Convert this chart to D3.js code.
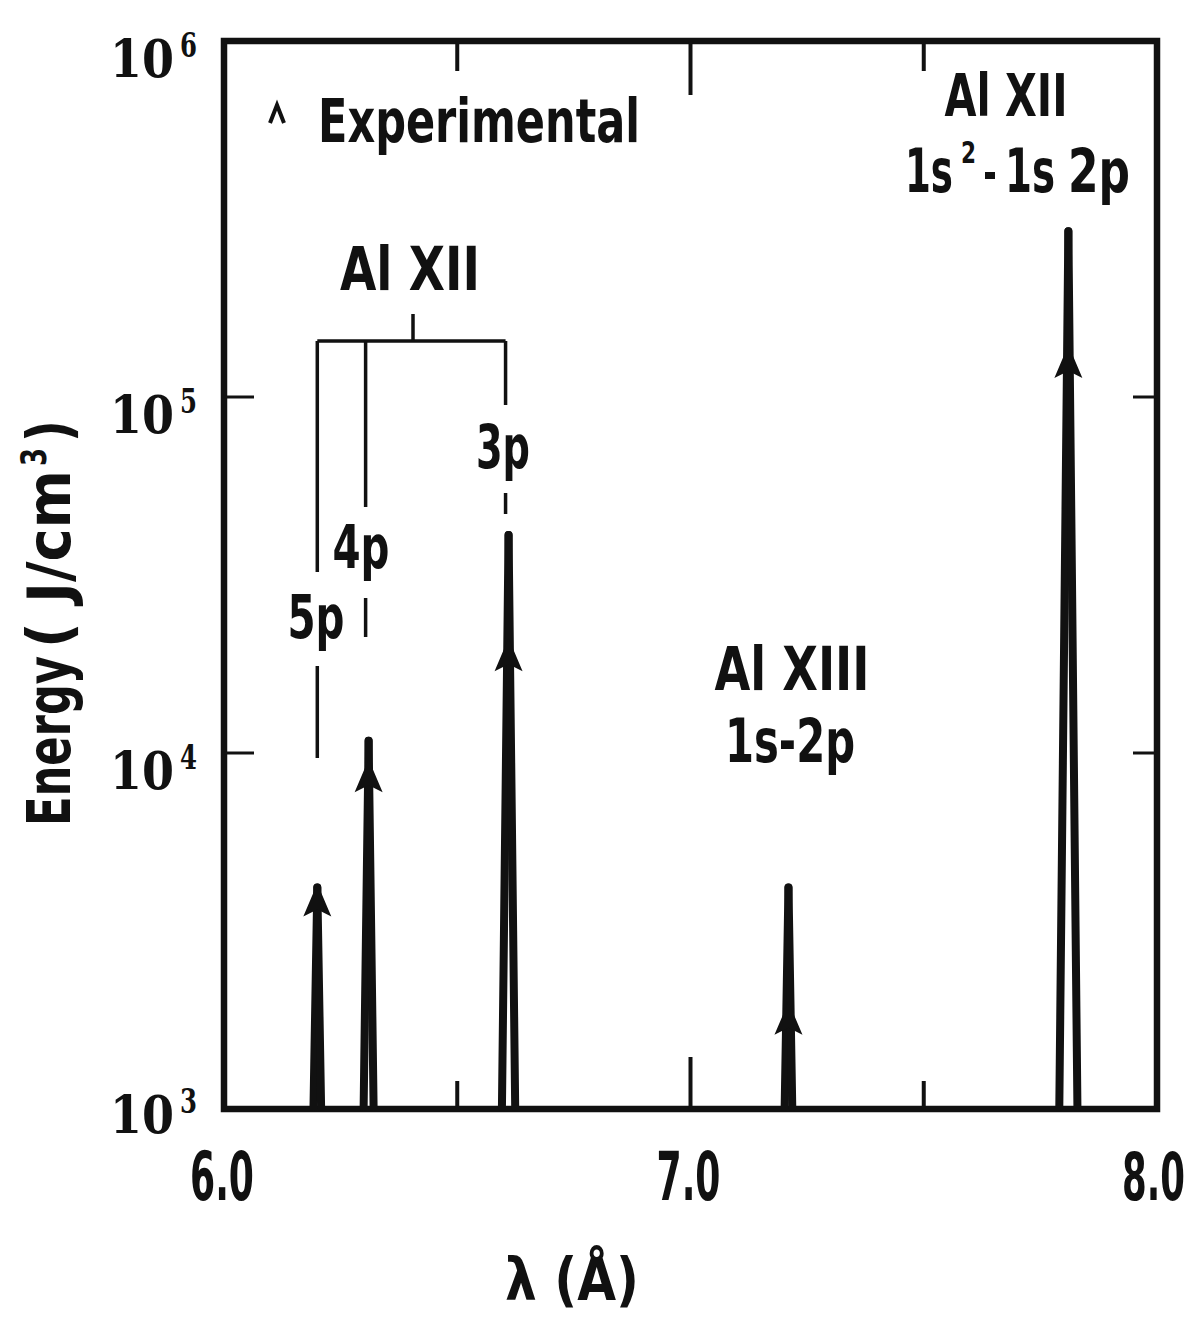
<!DOCTYPE html>
<html><head><meta charset="utf-8">
<script src="https://cdn.jsdelivr.net/npm/d3@7"></script>
<style>html,body{margin:0;padding:0;background:#fff;} svg{display:block;}</style>
</head><body><div id="chart"></div>
<script>
// ---- data ----
const lineNames = ["5p", "4p", "3p", "1s-2p", "1s2-1s2p"];
const wavelength = [6.20, 6.31, 6.61, 7.21, 7.81];          // Å
const theoryEnergy = [4.3e3, 1.11e4, 4.2e4, 4.3e3, 3.0e5];   // J/cm3 (spike tops)
const experimentalEnergy = [4.3e3, 9.6e3, 2.1e4, 2.0e3, 1.4e5]; // arrowheads
const xTickValues = [6.0, 7.0, 8.0];
const xTickLabels = ["6.0", "7.0", "8.0"];
const xInnerTicks = [6.5, 7.0, 7.5];
const yTickValues = [1e3, 1e4, 1e5, 1e6];
const yTickExponents = ["3", "4", "5", "6"];
const yInnerTicks = [1e4, 1e5];

// ---- setup ----
const W = 1202, H = 1318;
const svg = d3.select("#chart").append("svg").attr("width", W).attr("height", H)
  .style("background", "#fff");
const x = d3.scaleLinear().domain([6, 8]).range([224, 1157]);
const y = d3.scaleLog().domain([1e3, 1e6]).range([1109, 41]);
const COND = "'Liberation Sans Narrow','DejaVu Sans Condensed','Roboto Condensed','Arial Narrow',sans-serif";
const SERIF = "'DejaVu Serif','Liberation Serif',serif";
const INK = "#111";

function label(g, txt, xp, yp, size, len, anchor, family) {
  const t = g.append("text").attr("x", xp).attr("y", yp)
    .attr("font-size", size).attr("font-family", family || COND)
    .attr("font-weight", "bold").attr("fill", INK)
    .attr("text-anchor", anchor || "start").text(txt);
  if (len) t.attr("textLength", len).attr("lengthAdjust", "spacingAndGlyphs");
  return t;
}

const x0 = x(6), x1 = x(8), yB = y(1e3), yT = y(1e6);

// ---- frame ----
svg.append("rect").attr("x", x0).attr("y", yT).attr("width", x1 - x0).attr("height", yB - yT)
  .attr("fill", "none").attr("stroke", INK).attr("stroke-width", 6.5);

// inner ticks top/bottom
const tickLen = d => d === 7.0 ? 52 : 28;
svg.append("g").selectAll("line").data(xInnerTicks).join("line")
  .attr("x1", d => x(d)).attr("x2", d => x(d))
  .attr("y1", yB).attr("y2", d => yB - tickLen(d))
  .attr("stroke", INK).attr("stroke-width", 4);
svg.append("g").selectAll("line").data(xInnerTicks).join("line")
  .attr("x1", d => x(d)).attr("x2", d => x(d))
  .attr("y1", yT).attr("y2", d => yT + tickLen(d) + 2)
  .attr("stroke", INK).attr("stroke-width", 4);
// inner ticks left/right
svg.append("g").selectAll("line").data(yInnerTicks).join("line")
  .attr("x1", x0).attr("x2", x0 + 30).attr("y1", d => y(d)).attr("y2", d => y(d))
  .attr("stroke", INK).attr("stroke-width", 3);
svg.append("g").selectAll("line").data(yInnerTicks).join("line")
  .attr("x1", x1).attr("x2", x1 - 24).attr("y1", d => y(d)).attr("y2", d => y(d))
  .attr("stroke", INK).attr("stroke-width", 3);

// ---- tick labels ----
const xl = svg.append("g");
xTickValues.forEach((v, i) => {
  if (i === xTickValues.length - 1) label(xl, xTickLabels[i], 1185, 1200, 66, 63, "end");
  else label(xl, xTickLabels[i], x(v) - 2, 1200, 68, 64, "middle");
});
const yl = svg.append("g");
yTickValues.forEach((v, i) => {
  const base = v === 1e3 ? y(v) + 24 : y(v) + 36;
  label(yl, "10", 110, base, 52, 64, "start", SERIF);
  label(yl, yTickExponents[i], 180, base - 20, 34, 17, "start", SERIF);
});

// ---- axis titles ----
label(svg, "\u03BB (\u00C5)", 505, 1300, 58, 134, "start");
const yt = svg.append("g").attr("transform", "translate(70,0) rotate(-90)");
label(yt, "Energy", -826, 0, 60, 170, "start");
label(yt, "( J/cm", -648, 0, 60, 178, "start");
label(yt, "3", -466, -24, 36, 18, "start");
label(yt, ")", -442, 0, 60, 22, "start");

// ---- spikes (theory) ----
const idx = d3.range(lineNames.length);
const spikes = svg.append("g");
idx.forEach(i => {
  const xc = x(wavelength[i]);
  const yt2 = y(theoryEnergy[i]);
  const s = 2 + 0.008 * (yB - yt2);
  [-1, 1].forEach(side => {
    spikes.append("line")
      .attr("x1", xc + side * s).attr("y1", yB - 2)
      .attr("x2", xc).attr("y2", yt2 + 4)
      .attr("stroke", INK).attr("stroke-width", 8).attr("stroke-linecap", "round");
  });
});

// ---- arrowheads (experimental) ----
svg.append("g").selectAll("path").data(idx).join("path")
  .attr("transform", i => `translate(${x(wavelength[i])},${y(experimentalEnergy[i])})`)
  .attr("d", "M0,0 L14,33 L0,26 L-14,33 Z")
  .attr("fill", INK);

// ---- Al XII series bracket and leaders ----
const br = svg.append("g").attr("stroke", INK).attr("stroke-width", 3.5).attr("fill", "none");
const brY = 341;
br.append("line").attr("x1", x(wavelength[0])).attr("x2", x(wavelength[2]) - 3)
  .attr("y1", brY).attr("y2", brY);
br.append("line").attr("x1", 413).attr("x2", 413).attr("y1", brY).attr("y2", 314);
const leaders = [
  [[brY, 572], [666, 758]],
  [[brY, 507], [598, 637]],
  [[brY, 405], [493, 514]]
];
leaders.forEach((segs, i) => {
  const xc = x(wavelength[i]) - (i === 0 ? 0 : 3);
  segs.forEach(sg => br.append("line").attr("x1", xc).attr("x2", xc).attr("y1", sg[0]).attr("y2", sg[1]));
});

// ---- labels ----
const lab = svg.append("g");
lab.append("path").attr("d", "M270,123 L277,105 L284,123")
  .attr("fill", "none").attr("stroke", INK).attr("stroke-width", 4);
label(lab, "Experimental", 318, 142, 61, 322, "start");
label(lab, "Al  XII", 410, 290, 60, 140, "middle");
label(lab, "3p", 503, 468, 60, 54, "middle");
label(lab, "4p", 361, 568, 60, 57, "middle");
label(lab, "5p", 316, 638, 60, 57, "middle");
label(lab, "Al  XIII", 792, 690, 60, 155, "middle");
label(lab, "1s-2p", 790, 762, 60, 130, "middle");
label(lab, "Al  XII", 1006, 116, 58, 123, "middle");
label(lab, "1s", 953, 192, 60, 48, "end");
label(lab, "2", 961, 163, 30, 15, "start");
lab.append("rect").attr("x", 985).attr("y", 172).attr("width", 10).attr("height", 7).attr("fill", INK);
label(lab, "1s", 1005, 192, 60, 50, "start");
label(lab, "2p", 1068, 192, 60, 62, "start");
</script>
</body></html>
